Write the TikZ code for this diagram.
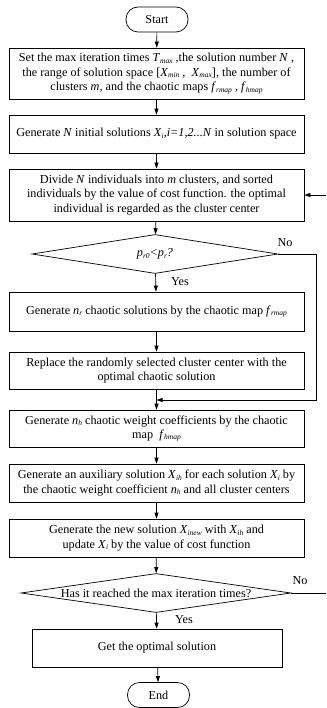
\documentclass[tikz,border=0pt]{standalone}
\usepackage{fontspec}
\setmainfont{Liberation Serif}
\usetikzlibrary{shapes.geometric,arrows.meta}
\newcommand{\vs}[2]{\textit{#1}\raisebox{-0.25ex}{\fontsize{7.5}{8}\selectfont\textit{#2}}}
\begin{document}
\begin{tikzpicture}[x=1pt,y=-1pt,line width=0.7pt,
    every node/.style={font=\fontsize{12.2}{14.5}\selectfont},
    proc/.style={draw,minimum width=295pt,inner xsep=1pt,inner ysep=0pt,align=center},
    term/.style={draw,rounded corners=12pt,minimum width=62pt,minimum height=25pt,inner sep=0pt},
    decide/.style={draw,shape=diamond,inner sep=0pt},
    arr/.style={-{Triangle[length=6pt,width=4pt]}}]
  \useasboundingbox (0,0) rectangle (326,708);

  \node (start)   at (157,19.5)  [term] {Start};
  \node (init)    at (156.5,73.5) [proc,minimum height=51pt] {Set the max iteration times \vs{T}{max} ,the solution number \textit{N} ,\\ the range of solution space [\vs{X}{min} ,~~\vs{X}{max}], the number of\\ clusters \textit{m,} and the chaotic maps \vs{f}{rmap} , \vs{f}{hmap}};
  \node (gen)     at (156.5,134) [proc,minimum height=38pt] {Generate \textit{N} initial solutions \vs{X}{i}\textit{,i=1,2...N} in solution space};
  \node (divide)  at (156.5,195) [proc,minimum height=52pt] {Divide \textit{N} individuals into \textit{m} clusters, and sorted\\ individuals by the value of cost function. the optimal\\ individual is regarded as the cluster center};
  \node (prob)    at (155,254)   [decide,minimum width=246pt,minimum height=39pt,label=center:{\vs{p}{r0}\textit{<}\vs{p}{r}\textit{?}}] {};
  \node (chaos)   at (156.5,311.5) [proc,minimum height=39pt] {Generate \vs{n}{r} chaotic solutions by the chaotic map \vs{f}{rmap}};
  \node (replace) at (156.5,370.5) [proc,minimum height=37pt] {Replace the randomly selected cluster center with the\\ optimal chaotic solution};
  \node (weight)  at (156.5,428.5) [proc,minimum height=37pt] {Generate \vs{n}{h} chaotic weight coefficients by the chaotic\\ map \ \vs{f}{hmap}};
  \node (aux)     at (156.5,483)   [proc,minimum height=38pt] {Generate an auxiliary solution \vs{X}{ih} for each solution \vs{X}{i} by\\ the chaotic weight coefficient \vs{n}{h} and all cluster centers};
  \node (update)  at (156.5,538)   [proc,minimum height=38pt] {Generate the new solution \vs{X}{inew} with \vs{X}{ih} and\\ update \vs{X}{i} by the value of cost function};
  \node (maxit)   at (156,593)     [decide,minimum width=270pt,minimum height=39pt,label=center:{Has it reached the max iteration times?}] {};
  \node (best)    at (157,648)     [proc,minimum width=250pt,minimum height=38pt] {Get the optimal solution};
  \node (end)     at (158.5,695)   [term] {End};

  \coordinate (rjoin)   at (316,400);
  \coordinate (merge)   at (156.5,400);
  \coordinate (loopout) at (326,593);
  \coordinate (loopin)  at (326,195);

  \draw[arr] (start) -- (init);
  \draw[arr] (init) -- (gen);
  \draw[arr] (gen) -- (divide);
  \draw[arr] (divide) -- (prob);
  \draw[arr] (prob) -- (chaos);
  \draw[arr] (chaos) -- (replace);
  \draw[arr] (replace) -- (weight);
  \draw[arr] (prob.east) -| (rjoin) -- (merge);
  \draw[arr] (weight) -- (aux);
  \draw[arr] (aux) -- (update);
  \draw[arr] (update) -- (maxit);
  \draw[arr] (maxit) -- (best);
  \draw[arr] (best) -- (end);
  \draw (maxit.east) -- (loopout);
  \draw[arr] (loopin) -- (divide);

  \node (yes1) at (180,282) {Yes};
  \node (no1)  at (285,243) {No};
  \node (yes2) at (184,620) {Yes};
  \node (no2)  at (300,581) {No};
\end{tikzpicture}
\end{document}
